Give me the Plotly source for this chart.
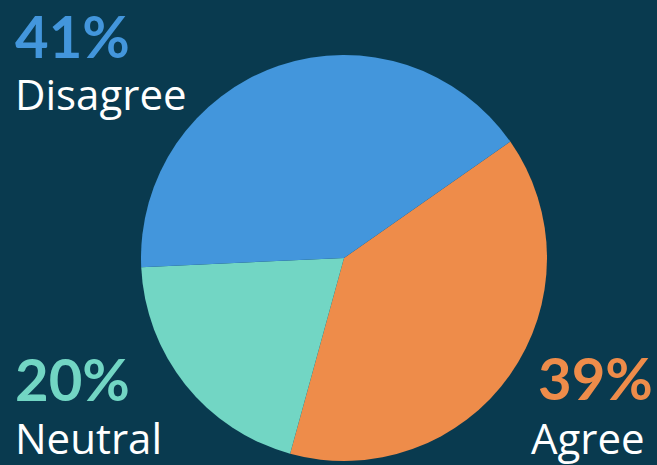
import plotly.graph_objects as go

# Survey responses
labels = ["Agree", "Neutral", "Disagree"]
values = [39, 20, 41]
colors = ["#EE8C4A", "#72D6C4", "#4396DC"]

W, H = 657, 465
BG = "#093A4F"

fig = go.Figure(
    go.Pie(
        labels=labels,
        values=values,
        sort=False,
        direction="clockwise",
        rotation=55,
        marker=dict(colors=colors, line=dict(width=0)),
        textinfo="none",
        hoverinfo="label+percent",
        showlegend=False,
        domain=dict(x=[0.2146, 0.8326], y=[0.0086, 0.8817]),
    )
)

# Callout positions (paper coords): value line (xv, yv) and label line (xl, yl)
callouts = {
    "Disagree": dict(xv=0.022, xl=0.020, xanchor="left", yv=1.0, yva="top", yl=0.799),
    "Neutral": dict(xv=0.022, xl=0.020, xanchor="left", yv=0.185, yva="middle", yl=0.060),
    "Agree": dict(xv=0.996, xl=0.985, xanchor="right", yv=0.189, yva="middle", yl=0.060),
}

total = sum(values)
for lab, val, col in zip(labels, values, colors):
    c = callouts[lab]
    pct = round(100 * val / total)
    fig.add_annotation(
        text=f"<b>{pct}%</b>", x=c["xv"], y=c["yv"], xref="paper", yref="paper",
        xanchor=c["xanchor"], yanchor=c["yva"], showarrow=False, borderpad=0,
        font=dict(family="Lato", size=58, color=col),
    )
    fig.add_annotation(
        text=lab, x=c["xl"], y=c["yl"], xref="paper", yref="paper",
        xanchor=c["xanchor"], yanchor="middle", showarrow=False,
        font=dict(family="Open Sans", size=42, color="white"),
    )

fig.update_layout(
    width=W, height=H,
    margin=dict(l=0, r=0, t=0, b=0),
    paper_bgcolor=BG, plot_bgcolor=BG,
)

fig.write_html("out.html")
